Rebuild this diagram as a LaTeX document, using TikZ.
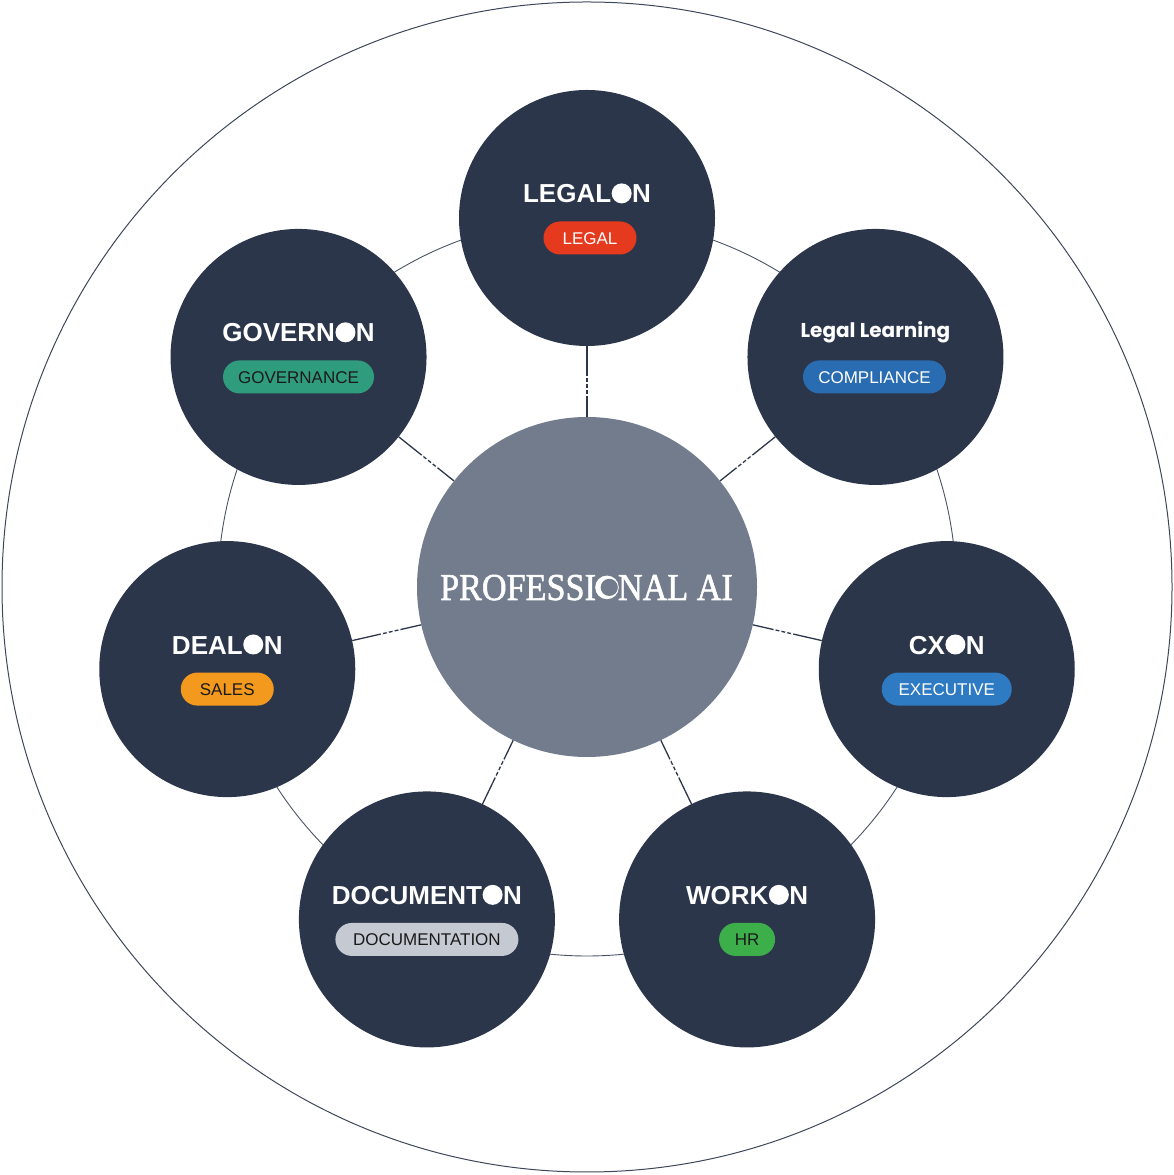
\documentclass[tikz,border=0pt]{standalone}
\usepackage{fontspec}
\usepackage{graphicx}
\setmainfont{Liberation Sans}
\newfontfamily\paserif{Liberation Serif}[FakeBold=1.5]
\newfontfamily\popfont{Poppins}
\usetikzlibrary{calc}
\definecolor{satcol}{HTML}{2C364B}
\definecolor{hubcol}{HTML}{737C8C}
\definecolor{outercol}{HTML}{3E475A}
\definecolor{ringcol}{HTML}{4A5365}
\definecolor{legalcol}{HTML}{E53A1E}
\definecolor{govcol}{HTML}{2F9C7D}
\definecolor{compcol}{HTML}{2A6CB2}
\definecolor{execcol}{HTML}{2E7BC4}
\definecolor{salescol}{HTML}{F3991D}
\definecolor{hrcol}{HTML}{3DAF4A}
\definecolor{doccol}{HTML}{C5C9D1}
\definecolor{pilldark}{HTML}{1A1A1A}
\newcommand\dotO{\tikz[baseline=0pt,x=1pt,y=1pt]{\path (0,0) rectangle (21,1); \fill[white] (10.5,9.6) circle[radius=10];}}
\newcommand\proO{\tikz[baseline=0pt,x=1pt,y=1pt]{\path (0,0) rectangle (24,1); \fill[white] (12,12.6) circle[radius=11.8]; \fill[hubcol] (14.3,12.6) circle[radius=8.6];}}
\tikzset{
  satnode/.style={circle, fill=satcol, minimum size=256pt, inner sep=0pt},
  hubnode/.style={circle, fill=hubcol, minimum size=340pt, inner sep=0pt},
  outerline/.style={draw=outercol, line width=1pt},
  ringline/.style={draw=ringcol, line width=0.9pt},
  spokeline/.style={draw=satcol, line width=1.3pt},
  spokegap/.style={draw=white, line width=1.8pt, dash pattern=on 2pt off 4pt},
  titletext/.style={text=white, font=\fontsize{26}{30}\selectfont\bfseries, anchor=base, inner sep=0pt},
  pill/.style={rectangle, rounded corners=16.5pt, minimum height=33pt, inner sep=0pt,
    text height=12.2pt, text depth=0pt, font=\fontsize{17}{20}\selectfont},
}
\begin{document}
\begin{tikzpicture}[x=1pt,y=1pt]
\useasboundingbox (0,0) rectangle (1174,1175);
\coordinate (C) at (587,588);
\draw[outerline] (C) circle[radius=585];
\draw[ringline] (C) circle[radius=369];
% hub and satellites
\node[hubnode] (hub) at (C) {};
\node[satnode] (legal) at ($(C)+(90:369)$) {};
\node[satnode] (learn) at ($(C)+(38.571:369)$) {};
\node[satnode] (cx) at ($(C)+(-12.857:369)$) {};
\node[satnode] (work) at ($(C)+(-64.286:369)$) {};
\node[satnode] (doc) at ($(C)+(-115.714:369)$) {};
\node[satnode] (deal) at ($(C)+(-167.143:369)$) {};
\node[satnode] (gov) at ($(C)+(141.429:369)$) {};
% spokes
\foreach \s in {legal,learn,cx,work,doc,deal,gov}{
  \draw[spokeline] (hub) -- (\s) coordinate[pos=0.3] (g1-\s) coordinate[pos=0.62] (g2-\s);
  \draw[spokegap] (g1-\s) -- (g2-\s);
}
% hub text
\node[text=white, inner sep=0pt, anchor=base, font=\paserif\fontsize{38}{40}\selectfont] (patext) at ($(C)+(-0.5,-13)$) {\scalebox{0.9}[1]{PROFESSI}\kern-1pt\proO\kern-1pt\scalebox{0.9}[1]{NAL AI}};
% titles
\node[titletext] (tlegal) at ($(legal)+(0,15)$) {LEGAL\dotO N};
\node[text=white, font=\popfont\bfseries\fontsize{20}{24}\selectfont, anchor=base, inner sep=0pt] (tlearn) at ($(learn)+(0,19)$) {Legal Learning};
\node[titletext] (tcx) at ($(cx)+(0,15)$) {CX\dotO N};
\node[titletext] (twork) at ($(work)+(0,15)$) {WORK\dotO N};
\node[titletext] (tdoc) at ($(doc)+(0,15)$) {DOCUMENT\dotO N};
\node[titletext] (tdeal) at ($(deal)+(0,15)$) {DEAL\dotO N};
\node[titletext] (tgov) at ($(gov)+(0,15)$) {GOVERN\dotO N};
% pills
\node[pill, fill=legalcol, text=white, minimum width=93pt] (plegal) at ($(legal)+(3,-20)$) {LEGAL};
\node[pill, fill=compcol, text=white, minimum width=143pt] (plearn) at ($(learn)+(-1,-20)$) {COMPLIANCE};
\node[pill, fill=execcol, text=white, minimum width=130pt] (pcx) at ($(cx)+(0,-20)$) {EXECUTIVE};
\node[pill, fill=hrcol, text=pilldark, minimum width=56pt] (pwork) at ($(work)+(0,-20)$) {HR};
\node[pill, fill=doccol, text=pilldark, minimum width=183pt] (pdoc) at ($(doc)+(0,-20)$) {DOCUMENTATION};
\node[pill, fill=salescol, text=pilldark, minimum width=93pt] (pdeal) at ($(deal)+(0,-20)$) {SALES};
\node[pill, fill=govcol, text=pilldark, minimum width=151pt] (pgov) at ($(gov)+(0,-20)$) {GOVERNANCE};
\end{tikzpicture}
\end{document}
